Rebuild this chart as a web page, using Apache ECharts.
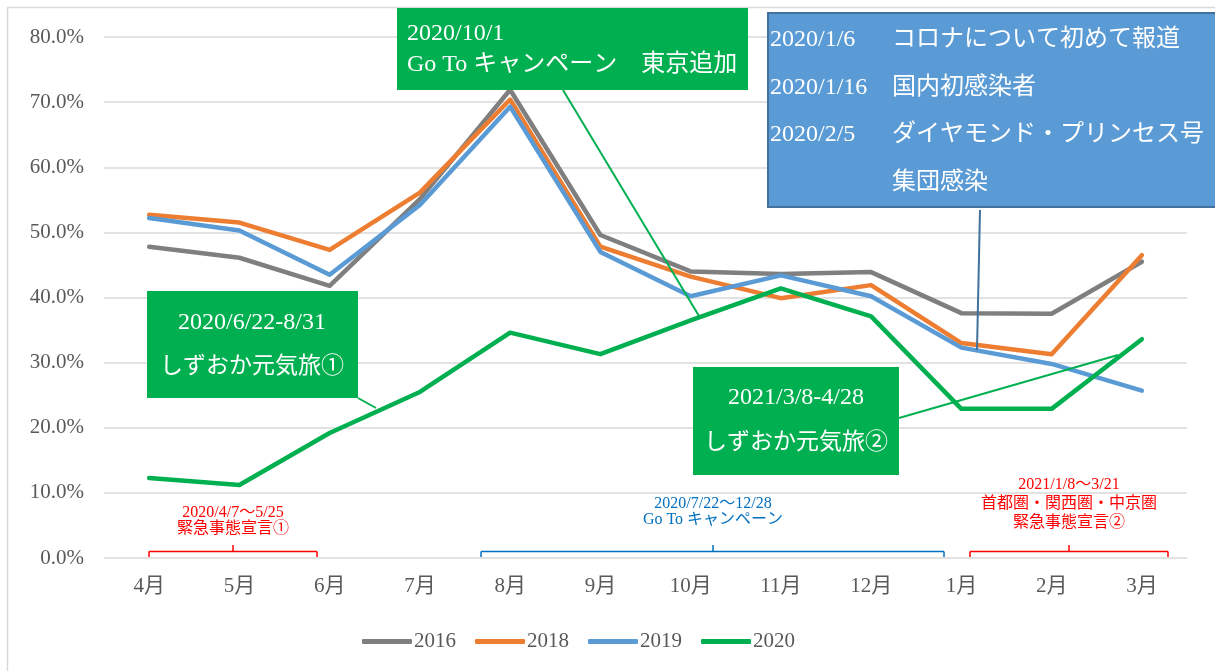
<!DOCTYPE html>
<html><head><meta charset="utf-8">
<script src="https://cdn.jsdelivr.net/npm/echarts@6/dist/echarts.min.js"></script>
<style>html,body{margin:0;padding:0;background:#fff}#c{width:1215px;height:671px}</style>
</head><body><div id="c"></div>
<script>
const categories = ['4月','5月','6月','7月','8月','9月','10月','11月','12月','1月','2月','3月'];
const seriesNames = ['2016','2018','2019','2020'];
const v2016 = [47.8, 46.1, 41.8, 55.1, 71.9, 49.6, 44.0, 43.6, 43.9, 37.6, 37.5, 45.5];
const v2018 = [52.7, 51.5, 47.3, 56.1, 70.4, 47.8, 43.2, 39.9, 41.9, 33.0, 31.3, 46.5];
const v2019 = [52.2, 50.3, 43.5, 54.2, 69.3, 47.0, 40.2, 43.4, 40.2, 32.3, 29.8, 25.7];
const v2020 = [12.3, 11.2, 19.2, 25.5, 34.6, 31.3, 36.5, 41.4, 37.1, 22.9, 22.9, 33.6];
const yTicks = {min: 0, max: 80, interval: 10};
const colors = ['#7f7f7f', '#ed7d31', '#5b9bd5', '#00b050'];

const FONT = "'Liberation Serif', 'Noto Sans CJK JP', serif";
const chart = echarts.init(document.getElementById('c'), null, {renderer: 'canvas'});
const values = [v2016, v2018, v2019, v2020];

function txt(text, x, y, size, color, align, extra) {
  return Object.assign({type: 'text', z: 110, style: {text: text, x: x, y: y, fill: color,
    fontSize: size, fontFamily: FONT, textAlign: align || 'left', textVerticalAlign: 'middle'}}, extra || {});
}
function ln(x1, y1, x2, y2, color, w) {
  return {type: 'line', z: 105, shape: {x1: x1, y1: y1, x2: x2, y2: y2}, style: {stroke: color, lineWidth: w || 1.5}};
}
function rect(x, y, w, h, fill, stroke, lw) {
  return {type: 'rect', z: 100, shape: {x: x, y: y, width: w, height: h},
    style: {fill: fill, stroke: stroke || null, lineWidth: lw || 0}};
}
function bracket(x1, x2, xm, color) {
  return [ln(x1, 557, x1, 551.5, color, 1.5), ln(x1, 551.5, x2, 551.5, color, 1.5),
          ln(x2, 551.5, x2, 557, color, 1.5), ln(xm, 551.5, xm, 545, color, 1.5)];
}
const W = '#ffffff', G = '#00b050', R = '#ff0000', B = '#0070c0';
const graphics = [].concat(
  [{type: 'rect', z: 1, shape: {x: 7.5, y: 7.5, width: 1300, height: 700}, style: {fill: null, stroke: '#d9d9d9', lineWidth: 1.5}}],
  [rect(397, 8, 351, 82, G), txt('2020/10/1', 407, 34, 24, W), txt('Go To キャンペーン　東京追加', 407, 65, 24, W),
   ln(563, 90, 699, 316, G, 2)],
  [rect(768, 13, 460, 194, '#5b9bd5', '#41719c', 2),
   txt('2020/1/6', 770, 40, 24, W), txt('コロナについて初めて報道', 892, 40, 24, W),
   txt('2020/1/16', 770, 88, 24, W), txt('国内初感染者', 892, 88, 24, W),
   txt('2020/2/5', 770, 135, 24, W), txt('ダイヤモンド・プリンセス号', 892, 135, 24, W),
   txt('集団感染', 892, 183, 24, W),
   ln(980, 210, 977, 350, '#41719c', 2)],
  [rect(147, 291, 211, 107, G), txt('2020/6/22-8/31', 252, 323, 24, W, 'center'),
   txt('しずおか元気旅①', 252, 367, 23, W, 'center'), ln(358, 398, 376, 408, G, 2)],
  [rect(693, 367, 206, 108, G), txt('2021/3/8-4/28', 796, 398, 24, W, 'center'),
   txt('しずおか元気旅②', 796, 443, 23, W, 'center'), ln(899, 418, 1118, 355, G, 2)],
  bracket(149, 317, 233, R),
  [txt('2020/4/7～5/25', 233, 513, 16, R, 'center'), txt('緊急事態宣言①', 233, 529, 16, R, 'center')],
  bracket(481, 944, 713, B),
  [txt('2020/7/22～12/28', 713, 504, 16, B, 'center'), txt('Go To キャンペーン', 713, 520, 16, B, 'center')],
  bracket(970, 1168, 1069, R),
  [txt('2021/1/8～3/21', 1069, 485, 16, R, 'center'), txt('首都圏・関西圏・中京圏', 1069, 504, 16, R, 'center'),
   txt('緊急事態宣言②', 1069, 523, 16, R, 'center')]
);

chart.setOption({
  animation: false,
  backgroundColor: '#ffffff',
  color: colors,
  textStyle: {fontFamily: FONT},
  grid: {left: 104, right: 28, top: 37, bottom: 113, containLabel: false},
  legend: {
    bottom: 14, left: 357, itemGap: 19, itemWidth: 50, itemHeight: 5, icon: 'roundRect',
    textStyle: {color: '#595959', fontSize: 21, fontFamily: FONT, padding: [0, 0, 0, -3]},
    data: seriesNames
  },
  xAxis: {
    type: 'category', data: categories, boundaryGap: true,
    axisLine: {show: false}, axisTick: {show: false},
    axisLabel: {color: '#595959', fontSize: 21, margin: 18, fontFamily: FONT}
  },
  yAxis: {
    type: 'value', min: yTicks.min, max: yTicks.max, interval: yTicks.interval,
    axisLine: {show: false}, axisTick: {show: false},
    splitLine: {lineStyle: {color: '#d9d9d9', width: 1.5}},
    axisLabel: {color: '#595959', fontSize: 21, margin: 20, fontFamily: FONT,
      formatter: v => v.toFixed(1) + '%'}
  },
  series: seriesNames.map((n, i) => ({
    name: n, type: 'line', data: values[i], showSymbol: false, symbol: 'none',
    lineStyle: {width: 4.5, color: colors[i], join: 'round', cap: 'round'},
    itemStyle: {color: colors[i]}, z: 2 + i
  })),
  graphic: {elements: graphics}
});
</script></body></html>
